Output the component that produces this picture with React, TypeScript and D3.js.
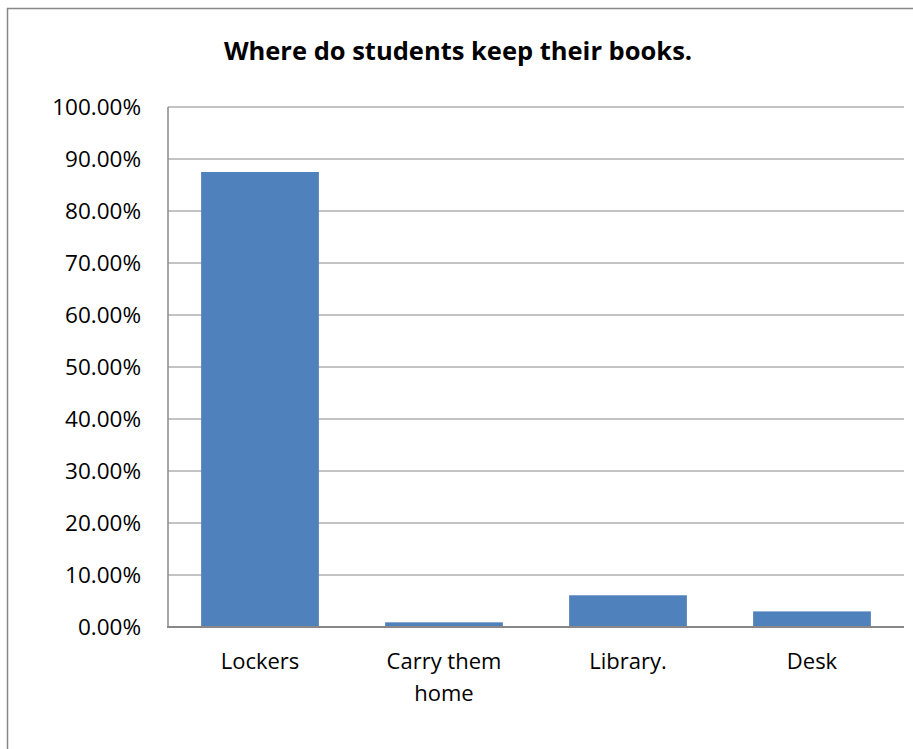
import React from "react";
import * as d3 from "d3";

const categories: string[][] = [["Lockers"], ["Carry them", "home"], ["Library."], ["Desk"]];
const values: number[] = [0.875, 0.009, 0.061, 0.03];
const yTicks: number[] = [0, 0.1, 0.2, 0.3, 0.4, 0.5, 0.6, 0.7, 0.8, 0.9, 1.0];
const title = "Where do students keep their books.";

export default function App() {
  const W = 913, H = 749;
  const left = 168, right = 904, top = 107, bottom = 627;
  const x = d3.scaleBand<number>().domain(d3.range(categories.length)).range([left, right]).paddingInner(0.36).paddingOuter(0.18);
  const y = d3.scaleLinear().domain([0, 1]).range([bottom, top]);
  const fmt = (v: number) => (v * 100).toFixed(2) + "%";
  const font = "'Open Sans', 'Liberation Sans', sans-serif";
  return (
    <svg width={W} height={H} style={{ position: "absolute", left: 0, top: 0, display: "block" }}>
      <rect x={0} y={0} width={W} height={H} fill="#fff" />
      <rect x={7.5} y={8.5} width={W + 10} height={H + 10} fill="none" stroke="#888" strokeWidth={1.5} />
      <text x={458} y={60} textAnchor="middle" fontFamily={font} fontWeight="bold" fontSize={25.5} fill="#000">{title}</text>
      {yTicks.map((t) => (
        <g key={t}>
          {t > 0 && <line x1={left} x2={right} y1={y(t)} y2={y(t)} stroke="#888" strokeWidth={1.2} />}
          <text x={141} y={y(t)} dy="0.36em" textAnchor="end" fontFamily={font} fontSize={22.5} fill="#000">{fmt(t)}</text>
        </g>
      ))}
      {values.map((v, i) => (
        <rect key={i} x={x(i)} y={y(v)} width={x.bandwidth()} height={bottom - y(v)} fill="#4F81BD" />
      ))}
      <line x1={left} x2={left} y1={top} y2={bottom} stroke="#888" strokeWidth={1.5} />
      <line x1={left - 1} x2={right} y1={bottom} y2={bottom} stroke="#888" strokeWidth={2} />
      {categories.map((lines, i) => (
        <text key={i} x={(x(i) as number) + x.bandwidth() / 2} y={669} textAnchor="middle" fontFamily={font} fontSize={22} fill="#000">
          {lines.map((l, j) => (
            <tspan key={j} x={(x(i) as number) + x.bandwidth() / 2} dy={j === 0 ? 0 : 32}>{l}</tspan>
          ))}
        </text>
      ))}
    </svg>
  );
}
